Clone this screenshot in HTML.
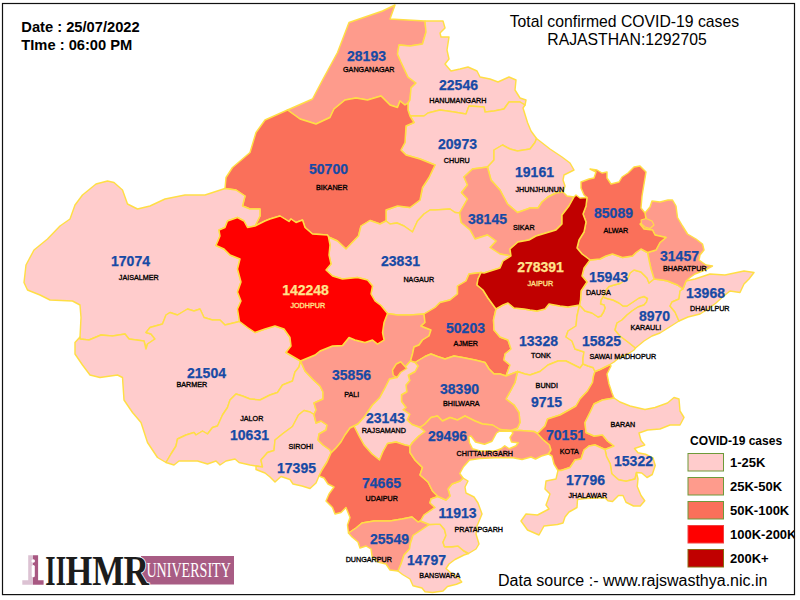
<!DOCTYPE html>
<html><head><meta charset="utf-8"><title>Rajasthan COVID-19 map</title>
<style>
html,body{margin:0;padding:0;background:#fff;}
body{width:800px;height:600px;overflow:hidden;position:relative;font-family:"Liberation Sans",sans-serif;}
svg{position:absolute;left:0;top:0;}
.n{font:bold 14px "Liberation Sans",sans-serif;text-anchor:middle;stroke-width:0.25px;}
.d{font:7.2px "Liberation Sans",sans-serif;text-anchor:middle;stroke-width:0.32px;}
.t{font:15.75px "Liberation Sans",sans-serif;fill:#000;text-anchor:middle;}
.b{font:bold 14.7px "Liberation Sans",sans-serif;fill:#000;}
.lg{font:bold 13px "Liberation Sans",sans-serif;fill:#000;}
</style></head><body>
<svg width="800" height="600" viewBox="0 0 800 600">
<rect x="0" y="0" width="800" height="600" fill="#fff"/>
<g stroke="#FFDE45" stroke-width="1.45" stroke-linejoin="round">
<polygon fill="#FE9B8C" points="287.5,110 312.5,99 322.5,80 337.5,52.5 349,22.5 382.5,11 395,5 390,19 425,21 426,32 422.5,44 410,46 399,45 397.5,54 401,62 408,77 416,83 411,88 410,100 408,103 405,105 400,101 397.5,107.5 390,105 381,96 367.5,100 356,98 345,100 334,109 330,117.5 316,124 300,119"/>
<polygon fill="#FFCCCC" points="425,21 443,21 445,28 440,33 441,37 449,37 447,50 449,59 445,64 451,71 460,69 468,67 477,71 480,77 490,79 498,82 509,77 516,80 515,90 520,98 526,100 525,105 520,102 509,102 504,109 494,111 485,112 484,107 469,106 466,114 454,112 440,110 428,113 424,116 410,116 408,110 408,103 410,100 411,88 416,83 408,77 401,62 397.5,54 399,45 410,46 422.5,44 426,32"/>
<polygon fill="#FFCCCC" points="525,105 523,108 527.5,122.5 531,131 536.5,138.5 535,142.5 530,149 517.5,151 510,149 502.5,145 494,150 494,160 487.5,167 472.5,169 464,177 467.5,185 461.5,192.5 467.5,199 459.5,213 455,212.5 450,209 435,210 430,210 424,214 417.5,221 412.5,232 404,226 397,223 390,224 386,221 386,210 397.5,206 410,207.5 420,200 422.5,187.5 429,177.5 435,165 420,159 406,155 401,150 405,142.5 406,126 414,122.5 410,116 424,116 428,113 440,110 454,112 466,114 469,106 484,107 485,112 494,111 504,109 509,102 520,102"/>
<polygon fill="#FFCCCC" points="536.5,138.5 550,149 562,157 570,163 574,170 564,175 563,180 565,186 563,192 556,193 548,197 542,202 538,208 530,208 527.5,209 517.5,212.5 507.5,204 500,190 491,180 487.5,167 494,160 494,150 502.5,145 510,149 517.5,151 530,149 535,142.5"/>
<polygon fill="#FE9B8C" points="563,192 567,196 574,197 569,206 562,215 562,224 556,230 546,233 536,236 529,240 518,242 510,249 511,256 500,254 490,247.5 496,241 487.5,235 475,239 470,230 461,222.5 459.5,213 467.5,199 461.5,192.5 467.5,185 464,177 472.5,169 487.5,167 491,180 500,190 507.5,204 517.5,212.5 527.5,209 530,208 538,208 542,202 548,197 556,193"/>
<polygon fill="#FA705A" points="225,188.5 226,177.5 232.5,167.5 250,152.5 256,132.5 265,120 287.5,110 300,119 316,124 330,117.5 334,109 345,100 356,98 367.5,100 381,96 390,105 397.5,107.5 400,101 405,105 408,103 408,110 410,116 414,122.5 406,126 405,142.5 401,150 406,155 420,159 435,165 429,177.5 422.5,187.5 420,200 410,207.5 397.5,206 386,210 386,221 380,224 370,220.5 361,226 358.5,236 346,249 337.5,241 328.5,237 327.5,235 312.5,234 305,227.5 302.5,220 296,222.5 291,219 289,221.5 280,216 270,219 265,221 255,226 260,216 260,209 250,209 242.5,206 245,196 236,190"/>
<polygon fill="#FFCCCC" points="80,337 81,317.5 80,305 72.5,301 50,300 40,295 27.5,290 24,282.5 26,265 34,250 47.5,239 60,226 70,219 75,205 82.5,195 96,184 107.5,181 114,182.5 122.5,190 127.5,204 137.5,209 150,206 165,199 185,195 205,195 225,188.5 236,190 245,196 242.5,206 250,209 260,209 260,216 255,226 247.5,227.5 244,221 237.5,217.5 227.5,221 225,227.5 219,230 220,236 216,245.5 224,249 230,255 240,259 237.5,269 241,282 237.5,292 241,301 237.5,309 239.5,321.5 225,325 220,320 212.5,320 204,317.5 200,309 194,311 187.5,309 177.5,315 170,312.5 166,315 162.5,324 150,327.5 146,332.5 151,334 155,339 147.5,344 146,349 144,341 129,339 125,334 112.5,336 101,335 89,340 80,339"/>
<polygon fill="#FFCCCC" points="166,462.5 157.5,457.5 147.5,442.5 141,422.5 132.5,412.5 124,400 122.5,377.5 117.5,375 100,377.5 90,375 82.5,365 75,354 75,342.5 80,337 80,339 89,340 101,335 112.5,336 125,334 129,339 144,341 146,349 147.5,344 155,339 151,334 146,332.5 150,327.5 162.5,324 166,315 170,312.5 177.5,315 187.5,309 194,311 200,309 204,317.5 212.5,320 220,320 225,325 239.5,321.5 247.5,327.5 255,332.5 265,329 275,326 284,329 290,337.5 291,346 286,352.5 300.5,361 299,367 295,372 292.5,381 282.5,385 277.5,392.5 270,395 260,400 250,399 242.5,396 236,394 230,400 227.5,407.5 222.5,415 217.5,426 212.5,427.5 207.5,434 202.5,431 196,435 194,432.5 186,435 177.5,439 176,446 171,454"/>
<polygon fill="#FFCCCC" points="256,466 250,465 239,462.5 235,459 226,461 220,465 216,461 207.5,464 197.5,461 179,461 174,465 166,462.5 171,454 176,446 177.5,439 186,435 194,432.5 196,435 202.5,431 207.5,434 212.5,427.5 217.5,426 222.5,415 227.5,407.5 230,400 236,394 242.5,396 250,399 260,400 270,395 277.5,392.5 282.5,385 292.5,381 295,372 299,367 300.5,361 305,371 312.5,379 320,386 323,392 323,399 314,403 316,410 314,414.5 310,412 304,410.5 298.5,415 292.5,426.5 283,433.5 275,440 274,450.5 267.5,452.5 261,460 262.5,467"/>
<polygon fill="#FFCCCC" points="319,476 316,483 310,488.5 302,486 293,484 290,479.5 281,476.5 275,482 270,477 265,473 256,469.5 256,466 262.5,467 261,460 267.5,452.5 274,450.5 275,440 283,433.5 292.5,426.5 298.5,415 304,410.5 310,412 314,414.5 316,423 321,421 327,425 326,430 319,434 318,440 323,445 330,450 331,453 327,462 322,470"/>
<polygon fill="#FFCCCC" points="459.5,213 455,212.5 450,209 435,210 430,210 424,214 417.5,221 412.5,232 404,226 397,223 390,224 386,221 380,224 370,220.5 361,226 358.5,236 346,249 337.5,241 328.5,237 330,245 329,255 331,264 326,270 332.5,276 342.5,279 357.5,277.5 367.5,280 372.5,286 371,294 375,301 381,305.5 387.5,313.5 397.5,315 410,315 424,314 435,307.5 440,302.5 450,300 457.5,294 457.5,286 466,281 469,274 481,272.5 484,273 500,268 503,261 511,256 500,254 490,247.5 496,241 487.5,235 475,239 470,230 461,222.5"/>
<polygon fill="#FE9B8C" points="300.5,361 315,355 320,351 332.5,346 342.5,345.5 349,337.5 355,340 365,342.5 372.5,340 377.5,344 384,340 382.5,332.5 384,322.5 387.5,313.5 397.5,315 410,315 424,314 425,322.5 421,326 431,330 429,336 422.5,340 419,345 414,347 412.5,354 410.5,361 406,366 400,372 397,377.5 389.5,379 385,388 379.75,397.75 372.25,405.25 364.75,416.5 358,424 354,426 350,428 345,435 341,442 336,448 331,453 330,450 323,445 318,440 319,434 326,430 327,425 321,421 316,423 314,414.5 316,410 314,403 323,399 323,392 320,386 312.5,379 305,371"/>
<polygon fill="#FA705A" points="424,314 435,307.5 440,302.5 450,300 457.5,294 457.5,286 466,281 469,274 481,272.5 478,279 477,285 483,290 488,298 496,309 493.5,320 494,330 500,337 508,340 511,349 505,354 504,360 510,365 506,376 500,374 494,374 489,369 485,362.5 475,360 462.5,357.5 454,356 445,359 437.5,356.5 431,354 425,356.5 415,362.5 410.5,361 412.5,354 414,347 419,345 422.5,340 429,336 431,330 421,326 425,322.5"/>
<polygon fill="#FFCCCC" points="579.5,305 568,307 560,306 549,304 545,309 537,311 530,310 524,309 514,308 508,303 503,305 496,309 493.5,320 494,330 500,337 508,340 511,349 505,354 504,360 510,365 506,376 517.5,371.5 525,374 530,375 540,371.5 548,365 558,361 566,361 574,365 580,368 583,364 583,358 584,352 575,349 572,341 566,337 568,331 576,326 577,316"/>
<polygon fill="#FFCCCC" points="517.5,371.5 525,374 530,375 540,371.5 548,365 558,361 566,361 574,365 580,368 583,364 588,366 593,367.5 595,371.5 593.5,376 592.5,382.5 587.5,391 580,399 576,406 569,410 560,415 547.5,419 545,426 537.5,433.5 534,431.5 520.5,430.5 511,430.5 517.5,428 520,422.5 519,412.5 514,405 506,399 511,390 515,382.5"/>
<polygon fill="#FE9B8C" points="415,362.5 418,366 415,371.5 408.25,375.25 409.75,380.5 406,385 406.75,391.75 401.5,394.75 401.5,401.5 406,407.5 403,409.75 409.75,414.25 407,420 412,424.5 420,427.5 425,424 431,417.5 437.5,416 442.5,421 450,417.5 457.5,420 465,416 475,421 482.5,424 492.5,425 500,429.5 511,430.5 517.5,428 520,422.5 519,412.5 514,405 506,399 511,390 515,382.5 517.5,371.5 506,376 500,374 494,374 489,369 485,362.5 475,360 462.5,357.5 454,356 445,359 437.5,356.5 431,354 425,356.5"/>
<polygon fill="#FFCCCC" points="354,426 358,424 364.75,416.5 372.25,405.25 379.75,397.75 385,388 389.5,379 397,377.5 400,372 406,366 410.5,361 415,362.5 418,366 415,371.5 408.25,375.25 409.75,380.5 406,385 406.75,391.75 401.5,394.75 401.5,401.5 406,407.5 403,409.75 409.75,414.25 407,420 412,424.5 420,427.5 425,431.5 419,436 412.5,442.5 410,446 405,445 396,442 387.5,443.5 383,451.5 379.5,460 372,454 364,445 359,436"/>
<polygon fill="#FA705A" points="354,426 359,436 364,445 372,454 379.5,460 383,451.5 387.5,443.5 396,442 405,445 410,446 410,452.5 415,460 422.5,467.5 420,475 428,482 432.5,491 438,496.5 431,499 430,503 435,507.5 424,515 420.5,521 418,522 412,517 402,519 390,521 374,521 362,523 356,528 348.5,533 347.5,525 350,517.5 346,507.5 341,512.5 335,514 332.5,507.5 326,501 329,494 334,487 328,484 324,478 319,476 322,470 327,462 331,453 336,448 341,442 345,435 350,428"/>
<polygon fill="#FE9B8C" points="348.5,533 356,528 362,523 374,521 390,521 402,519 412,517 418,522 420.5,521 429.5,524.5 422,529.5 413,535.5 410.5,543 409.5,549 404,555 401,564 398,571 390,570 386,564 378,562 372,556 371,549 366,546 360,548 358,542 352,537"/>
<polygon fill="#FFCCCC" points="429.5,524.5 435.5,524.25 440,524.25 444.5,529.5 446,535.5 443,542.25 444.5,546.75 452,546.75 458,546 463.25,550.5 468.5,553.5 464,555 455,559.5 449,564 446,568.5 451,573 458,577.5 461.75,582 456.5,584.25 447.5,586.5 443,591 432.5,592.5 425,591.75 422,588 413,585.75 410,579 402.5,574.5 398,571 401,564 404,555 409.5,549 410.5,543 413,535.5 422,529.5"/>
<polygon fill="#FFCCCC" points="438,496.5 431,499 430,503 435,507.5 424,515 420.5,521 429.5,524.5 435.5,524.25 440,524.25 444.5,529.5 446,535.5 443,542.25 444.5,546.75 452,546.75 458,546 463.25,550.5 468.5,553.5 476,549 479,544 476,534 477,526 482,514 478,503 474,497 466,493 465,487 468,481 463,478 460,481 452,484 448,489 450,496 446,500"/>
<polygon fill="#FE9B8C" points="420,427.5 425,424 431,417.5 437.5,416 442.5,421 450,417.5 457.5,420 465,416 475,421 482.5,424 492.5,425 500,429.5 511,430.5 520.5,430.5 534,431.5 537.5,433.5 543,439.5 549.5,445 551,450 548.5,454 541.5,456 535.5,459 531,457 522,459.5 513,457.75 495,457.75 480,458.5 469.5,460 463.5,466.75 459.75,473.5 463,478 460,481 452,484 448,489 450,496 446,500 438,496.5 432.5,491 428,482 420,475 422.5,467.5 415,460 410,452.5 410,446 412.5,442.5 419,436 425,431.5"/>
<polygon fill="#FA705A" points="610,364.5 611,366 607,374 609,384 612,393 614,398 602.5,400 594,404 590,412.5 585,422.5 586,432.5 594,436 602.5,435 607.5,441 614,446 605,449.5 595,445 589,446 584,450 581,459 575,460 570,467.5 561,470.5 558,470.5 554,464 552,456 548.5,454 551,450 549.5,445 543,439.5 537.5,433.5 545,426 547.5,419 560,415 569,410 576,406 580,399 587.5,391 592.5,382.5 593.5,376 595,371.5 600,369.5"/>
<polygon fill="#FFCCCC" points="614,398 620,402 630,406 645,409.5 655,407.5 667.5,403 674,397.5 679,399 680,411 684,417.5 680,425 670,425 660,429 647.5,430 639,433 641,440.5 644.75,445 634.5,448.5 638,452.75 645.5,454.25 653,458 655.25,465.5 652.25,474.5 647,477.5 641.75,473 636.5,472.5 635,479 626,481.25 618.5,479.75 611.75,473.75 610.25,464 606.5,456.5 605,449.5 614,446 607.5,441 602.5,435 594,436 586,432.5 585,422.5 590,412.5 594,404 602.5,400"/>
<polygon fill="#FFCCCC" points="636.5,472.5 638,479 637.25,486.5 641,495.5 644.75,500.75 640.25,506 633.5,506 626,502.25 623,495.5 618.5,495.5 612.5,501.5 608,500.75 605,497.75 585,498.5 577.5,499.5 577,507.5 569,512 565,517 563,523 557.5,524.5 544,526 539,535 527.5,530 521,521 526,514 537.5,515 549,509 546,505 550,494 545,489 546,481 556,479 558,470.5 561,470.5 570,467.5 575,460 581,459 584,450 589,446 595,445 605,449.5 606.5,456.5 610.25,464 611.75,473.75 618.5,479.75 626,481.25 635,479"/>
<polygon fill="#FFCCCC" points="579.5,305 577,316 576,326 568,331 566,337 572,341 575,349 584,352 583,358 583,364 588,366 593,367.5 595,371.5 600,369.5 610,364.5 614,362 620,357 628,354 634,350 635.5,348 628,342 620,336 615,330 617,323 622,320 627,315 632,311 638,307 644,305 646.5,302 647.5,298.5 644,296.5 639,298 633,302 627,306 623,306 619,303 613,300 607,298.5 603,297 601,300 600.5,304 604,305 605,308 603.5,312 601,316 598,317 592,313 585,311"/>
<polygon fill="#FFCCCC" points="679,321 668,328 660,333 652,336 644,341 635.5,348 628,342 620,336 615,330 617,323 622,320 627,315 632,311 638,307 644,305 646.5,302 647.5,298.5 644,296.5 639,298 633,302 627,306 623,306 619,303 613,300 607,298.5 603,297 606,290 609,286.5 614,285 620,283.5 628,278 630,273 634,270 641,272 647,278 649,283 654,279 662.5,280 667.5,281 677.5,285 683,289 680,291 679,299 672,302 670,306 675,312"/>
<polygon fill="#FFCCCC" points="686,281 695,279 710,274 725,275 744,271 754,272.5 749,279 744,284 740,292.5 730,291 722.5,297 716,303 708,309 700,314 688,317 679,321 675,312 670,306 672,302 679,299 680,291 683,289"/>
<polygon fill="#FE9B8C" points="645,213 650,207 652,201 660,202 668,200 672.5,200 676,206 677.5,217.5 682.5,226 687.5,234 696,239 702.5,244 704,250 700,255 699,260 706,265 712.5,266 705,270 695,274 690,277.5 686,281 683,289 677.5,285 667.5,281 662.5,280 654,279 651,269 649,260 647.5,252.5 656,250 660,242.5 666,237.5 655,235 652.5,230 644,229 640,224 646,219"/>
<polygon fill="#FFCCCC" points="590,260 600,259 606,256 612.5,254 622.5,257.5 632.5,256 636,252.5 641,249 647.5,252.5 649,260 651,269 654,279 649,283 647,278 641,272 634,270 630,273 628,278 620,283.5 614,285 609,286.5 606,290 603,297 601,300 600.5,304 604,305 605,308 603.5,312 601,316 598,317 592,313 585,311 579.5,305 580.5,300 581,291 587,282 582,276 584,268"/>
<polygon fill="#FA705A" points="587,197.5 584,195 581,188 581,182 589,179 594,178 596,172 590,169 597,170 602,173 607,172 607,178 611,184 619,182 622,177 628,173 634,167 640,166 646,172 644,184 642,196 641,208 645,213 646,219 640,224 644,229 652.5,230 655,235 666,237.5 660,242.5 656,250 647.5,252.5 641,249 636,252.5 632.5,256 622.5,257.5 612.5,254 606,256 600,259 590,260 582,254 577,248 579,240 584,232 586,222 583,214 586,206"/>
<polygon fill="#C00000" points="574,197 576,195 580,198 587,197.5 586,206 583,214 586,222 584,232 579,240 577,248 582,254 590,260 584,268 582,276 587,282 581,291 580.5,300 579.5,305 568,307 560,306 549,304 545,309 537,311 530,310 524,309 514,308 508,303 503,305 496,309 488,298 483,290 477,285 478,279 481,272.5 484,273 500,268 503,261 511,256 510,249 518,242 529,240 536,236 546,233 556,230 562,224 562,215 569,206"/>
<polygon fill="#FF0000" points="328.5,237 327.5,235 312.5,234 305,227.5 302.5,220 296,222.5 291,219 289,221.5 280,216 270,219 265,221 255,226 247.5,227.5 244,221 237.5,217.5 227.5,221 225,227.5 219,230 220,236 216,245.5 224,249 230,255 240,259 237.5,269 241,282 237.5,292 241,301 237.5,309 239.5,321.5 247.5,327.5 255,332.5 265,329 275,326 284,329 290,337.5 291,346 286,352.5 300.5,361 315,355 320,351 332.5,346 342.5,345.5 349,337.5 355,340 365,342.5 372.5,340 377.5,344 384,340 382.5,332.5 384,322.5 387.5,313.5 381,305.5 375,301 371,294 372.5,286 367.5,280 357.5,277.5 342.5,279 332.5,276 326,270 331,264 329,255 330,245"/>
<polygon fill="#FFFFFF" points="468.75,436.75 471,436 475.5,442 484.5,444.25 492,441.25 496.5,433 499.5,431.2 511.5,431.2 513,433 510,437.5 511.5,442 518.25,442.75 516,445.75 509.25,448.75 504.75,445.75 501,448.75 495,451 480,451 472.5,448.75 469.5,442.75"/>
<polygon fill="#FA705A" points="400.75,361.75 406.75,368.5 400.75,372.25 397,377.5 393.25,375.25 392.5,370 396.25,364"/>
<polygon fill="#FE9B8C" stroke-width="1.1" points="641,220 646,218.5 652,221 654,225 650,228.5 645,227 641.5,224"/>
</g>
<g>
<text class="n" x="366.5" y="60.5" fill="#174AA5" stroke="#174AA5">28193</text>
<text class="d" x="368.8" y="71.9" fill="#000000" stroke="#000000">GANGANAGAR</text>
<text class="n" x="458.5" y="89.5" fill="#174AA5" stroke="#174AA5">22546</text>
<text class="d" x="457.8" y="102.9" fill="#000000" stroke="#000000">HANUMANGARH</text>
<text class="n" x="457.5" y="148.5" fill="#174AA5" stroke="#174AA5">20973</text>
<text class="d" x="456.8" y="162.5" fill="#000000" stroke="#000000">CHURU</text>
<text class="n" x="328.5" y="173.5" fill="#174AA5" stroke="#174AA5">50700</text>
<text class="d" x="331.8" y="189.5" fill="#000000" stroke="#000000">BIKANER</text>
<text class="n" x="534.5" y="176.5" fill="#174AA5" stroke="#174AA5">19161</text>
<text class="d" x="539.8" y="191.5" fill="#000000" stroke="#000000">JHUNJHUNUN</text>
<text class="n" x="487.5" y="223.5" fill="#174AA5" stroke="#174AA5">38145</text>
<text class="d" x="523.8" y="229.5" fill="#000000" stroke="#000000">SIKAR</text>
<text class="n" x="613.5" y="217.5" fill="#174AA5" stroke="#174AA5">85089</text>
<text class="d" x="615.8" y="232.5" fill="#000000" stroke="#000000">ALWAR</text>
<text class="n" x="130.5" y="265.5" fill="#174AA5" stroke="#174AA5">17074</text>
<text class="d" x="138.8" y="280.1" fill="#000000" stroke="#000000">JAISALMER</text>
<text class="n" x="400.5" y="265.5" fill="#174AA5" stroke="#174AA5">23831</text>
<text class="d" x="418.8" y="281.9" fill="#000000" stroke="#000000">NAGAUR</text>
<text class="n" x="305.5" y="294.5" fill="#FFE38C" stroke="#FFE38C">142248</text>
<text class="d" x="307.8" y="307.5" fill="#FFE38C" stroke="#FFE38C">JODHPUR</text>
<text class="n" x="540.5" y="271.5" fill="#FFE38C" stroke="#FFE38C">278391</text>
<text class="d" x="540.3" y="285.5" fill="#FFE38C" stroke="#FFE38C">JAIPUR</text>
<text class="n" x="679.5" y="260.5" fill="#174AA5" stroke="#174AA5">31457</text>
<text class="d" x="684.8" y="270.5" fill="#000000" stroke="#000000">BHARATPUR</text>
<text class="n" x="608.5" y="281.5" fill="#174AA5" stroke="#174AA5">15943</text>
<text class="d" x="598.3" y="295.1" fill="#000000" stroke="#000000">DAUSA</text>
<text class="n" x="705.5" y="297.5" fill="#174AA5" stroke="#174AA5">13968</text>
<text class="d" x="709.8" y="310.5" fill="#000000" stroke="#000000">DHAULPUR</text>
<text class="n" x="654.5" y="320.5" fill="#174AA5" stroke="#174AA5">8970</text>
<text class="d" x="645.8" y="329.5" fill="#000000" stroke="#000000">KARAULI</text>
<text class="n" x="465.5" y="332.5" fill="#174AA5" stroke="#174AA5">50203</text>
<text class="d" x="465.8" y="345.9" fill="#000000" stroke="#000000">AJMER</text>
<text class="n" x="538.5" y="345.5" fill="#174AA5" stroke="#174AA5">13328</text>
<text class="d" x="540.8" y="357.9" fill="#000000" stroke="#000000">TONK</text>
<text class="n" x="601.5" y="345.5" fill="#174AA5" stroke="#174AA5">15825</text>
<text class="d" x="622.8" y="359" fill="#000000" stroke="#000000">SAWAI MADHOPUR</text>
<text class="n" x="206.5" y="377.5" fill="#174AA5" stroke="#174AA5">21504</text>
<text class="d" x="191.8" y="386.9" fill="#000000" stroke="#000000">BARMER</text>
<text class="n" x="351.5" y="379.5" fill="#174AA5" stroke="#174AA5">35856</text>
<text class="d" x="351.8" y="396.5" fill="#000000" stroke="#000000">PALI</text>
<text class="n" x="546.5" y="406.5" fill="#174AA5" stroke="#174AA5">9715</text>
<text class="d" x="546.8" y="387.9" fill="#000000" stroke="#000000">BUNDI</text>
<text class="n" x="459.5" y="393.5" fill="#174AA5" stroke="#174AA5">38390</text>
<text class="d" x="461.3" y="405.9" fill="#000000" stroke="#000000">BHILWARA</text>
<text class="n" x="385.5" y="422.5" fill="#174AA5" stroke="#174AA5">23143</text>
<text class="d" x="383.8" y="432.5" fill="#000000" stroke="#000000">RAJSAMAND</text>
<text class="n" x="249.5" y="439.5" fill="#174AA5" stroke="#174AA5">10631</text>
<text class="d" x="251.8" y="420.9" fill="#000000" stroke="#000000">JALOR</text>
<text class="n" x="633.5" y="465.5" fill="#174AA5" stroke="#174AA5">15322</text>
<text class="d" x="622.8" y="427.1" fill="#000000" stroke="#000000">BARAN</text>
<text class="n" x="447.5" y="440.5" fill="#174AA5" stroke="#174AA5">29496</text>
<text class="d" x="484.8" y="456" fill="#000000" stroke="#000000">CHITTAURGARH</text>
<text class="n" x="565.5" y="439.5" fill="#174AA5" stroke="#174AA5">70151</text>
<text class="d" x="569.3" y="454" fill="#000000" stroke="#000000">KOTA</text>
<text class="n" x="296.5" y="472.5" fill="#174AA5" stroke="#174AA5">17395</text>
<text class="d" x="300.8" y="448.9" fill="#000000" stroke="#000000">SIROHI</text>
<text class="n" x="585.5" y="484.5" fill="#174AA5" stroke="#174AA5">17796</text>
<text class="d" x="587.8" y="497.6" fill="#000000" stroke="#000000">JHALAWAR</text>
<text class="n" x="381.5" y="487.5" fill="#174AA5" stroke="#174AA5">74665</text>
<text class="d" x="381.8" y="501" fill="#000000" stroke="#000000">UDAIPUR</text>
<text class="n" x="457.5" y="517.5" fill="#174AA5" stroke="#174AA5">11913</text>
<text class="d" x="478.8" y="532.2" fill="#000000" stroke="#000000">PRATAPGARH</text>
<text class="n" x="389.5" y="543.5" fill="#174AA5" stroke="#174AA5">25549</text>
<text class="d" x="368.8" y="561.5" fill="#000000" stroke="#000000">DUNGARPUR</text>
<text class="n" x="426.5" y="564.5" fill="#174AA5" stroke="#174AA5">14797</text>
<text class="d" x="439.8" y="577.9" fill="#000000" stroke="#000000">BANSWARA</text>
</g>
<!-- header -->
<text class="b" x="21.3" y="32">Date : 25/07/2022</text>
<text class="b" x="21.3" y="50">TIme : 06:00 PM</text>
<text class="t" x="624.4" y="27">Total confirmed COVID-19 cases</text>
<text class="t" x="627" y="44.5">RAJASTHAN:1292705</text>
<!-- legend -->
<clipPath id="fc"><rect x="3" y="4" width="791.5" height="590"/></clipPath>
<g clip-path="url(#fc)">
<text class="lg" style="font-size:12px" x="690" y="445">COVID-19 cases</text>
<g stroke="#6E9A3A" stroke-width="1">
<rect x="688" y="453.5" width="35.5" height="17.5" fill="#FFCCCC"/>
<rect x="688" y="477.5" width="35.5" height="17.5" fill="#FE9B8C"/>
<rect x="688" y="501.5" width="35.5" height="17.5" fill="#FA705A"/>
<rect x="688" y="525.5" width="35.5" height="17.5" fill="#FF0000" stroke="#F04040"/>
<rect x="688" y="549.5" width="35.5" height="17.5" fill="#C00000" stroke="#8A6A10"/>
</g>
<text class="lg" x="730" y="467">1-25K</text>
<text class="lg" x="730" y="491">25K-50K</text>
<text class="lg" x="730" y="515">50K-100K</text>
<text class="lg" x="730" y="539">100K-200K</text>
<text class="lg" x="730" y="563">200K+</text>
</g>
<text x="498" y="586" style="font:16px 'Liberation Sans',sans-serif" fill="#000">Data source :- www.rajswasthya.nic.in</text>
<!-- logo -->
<g>
<rect x="141" y="556" width="93" height="28.5" fill="#A85C84"/>
<path d="M28.2 555.3H33V584.7H22.3V580.3H28.2Z" fill="#DCC2D3"/>
<path d="M33 555.3H38.1V580.3H43.6V584.7H33Z" fill="#A85882"/>
<circle cx="33.2" cy="561" r="1.8" fill="#fff"/>
<rect x="31.7" y="565" width="3.1" height="12.2" rx="1.5" fill="#fff"/>
<text x="45.3" y="584.6" textLength="10.3" lengthAdjust="spacingAndGlyphs" style="font:bold 43.2px 'Liberation Serif',serif" fill="#1c1c1c">I</text>
<text x="55.7" y="584.6" textLength="10.3" lengthAdjust="spacingAndGlyphs" style="font:bold 43.2px 'Liberation Serif',serif" fill="#1c1c1c">I</text>
<text x="65.4" y="584.6" textLength="26.8" lengthAdjust="spacingAndGlyphs" style="font:bold 43.2px 'Liberation Serif',serif" fill="#1c1c1c">H</text>
<text x="92.3" y="584.6" textLength="32.3" lengthAdjust="spacingAndGlyphs" style="font:bold 43.2px 'Liberation Serif',serif" fill="#1c1c1c">M</text>
<text x="123.4" y="584.6" textLength="25.5" lengthAdjust="spacingAndGlyphs" style="font:bold 43.2px 'Liberation Serif',serif" stroke="#fff" stroke-width="1.8" paint-order="stroke" fill="#1c1c1c">R</text>
<text x="146.4" y="576.9" textLength="84.5" lengthAdjust="spacingAndGlyphs" style="font:20.4px 'Liberation Serif',serif" fill="#fff">UNIVERSITY</text>
</g>
<!-- frame -->
<rect x="2.5" y="3.5" width="792" height="591.1" fill="none" stroke="#111" stroke-width="1.2"/>
</svg>
</body></html>
